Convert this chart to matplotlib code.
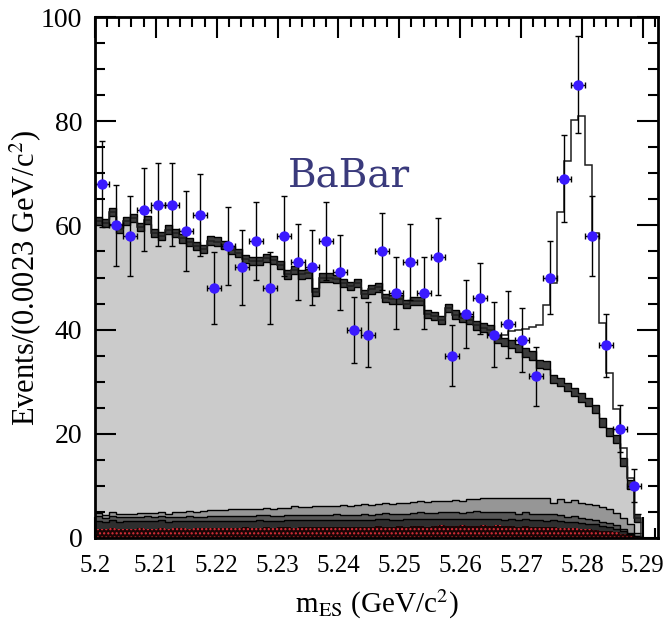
import numpy as np
import matplotlib
matplotlib.use("Agg")
import matplotlib.pyplot as plt
from matplotlib.ticker import MultipleLocator

# ---- data -------------------------------------------------------------
# Data points: 39 bins of 0.0023 GeV starting at 5.2 GeV
data_counts = [68, 60, 58, 63, 64, 64, 59, 62, 48, 56, 52, 57, 48, 58, 53, 52,
               57, 51, 40, 39, 55, 47, 53, 47, 54, 35, 43, 46, 39, 41, 38, 31,
               50, 69, 87, 58, 37, 21, 10]
data_bin_width = 0.0023
x_start = 5.2

# Fit components on 78 fine bins of 0.00115 GeV
fine_bin_width = 0.00115

# Continuum background (top of the light-grey area, centre of the dark band)
bkg_fit = [60.8, 60.5, 62.6, 59.4, 60.8, 61.4, 59.7, 61.0, 58.6, 58.0, 59.2, 58.6, 57.5,
           56.8, 56.1, 55.5, 57.1, 56.9, 56.3, 55.3, 54.7, 53.5, 53.2, 53.2, 53.8, 53.4,
           52.4, 50.6, 51.5, 50.6, 50.8, 47.2, 50.0, 50.0, 49.7, 49.0, 48.4, 49.0, 46.8,
           47.7, 48.1, 46.1, 45.8, 45.8, 44.9, 45.5, 45.5, 43.0, 42.6, 41.9, 44.2, 42.9,
           42.3, 41.9, 40.8, 40.4, 40.0, 38.2, 37.6, 37.2, 36.5, 35.6, 35.0, 33.4, 33.2,
           30.5, 29.9, 29.0, 28.0, 27.0, 26.1, 24.8, 22.2, 20.3, 19.0, 14.6, 10.3, 3.8]
band_halfwidth = 0.8

# Total fit (signal + background)
total_fit = [60.8, 60.5, 62.6, 59.4, 60.8, 61.4, 59.7, 61.0, 58.6, 58.0, 59.2, 58.6, 57.5,
             56.8, 56.1, 55.5, 57.1, 56.9, 56.3, 55.3, 54.7, 53.5, 53.2, 53.2, 53.8, 53.4,
             52.4, 50.6, 51.5, 50.6, 50.8, 47.2, 50.0, 50.0, 49.7, 49.0, 48.4, 49.0, 46.8,
             47.7, 48.1, 46.1, 45.8, 45.8, 44.9, 45.5, 45.5, 43.0, 42.6, 41.9, 44.2, 42.9,
             42.3, 41.9, 40.8, 40.4, 40.0, 38.2, 39.0, 39.8, 40.0, 40.2, 40.5, 40.9, 44.7,
             49.0, 62.6, 72.4, 80.2, 81.0, 71.6, 58.6, 41.3, 31.7, 24.8, 17.3, 11.6, 3.8]

# B-background components (stacked from the bottom)
bb_comb = [1.8, 1.7, 1.9, 1.8, 1.8, 1.7, 1.9, 1.8, 1.8, 1.9, 1.8, 1.9, 1.9, 1.8, 2.0, 1.9,
           1.9, 2.0, 2.0, 1.9, 2.0, 2.1, 2.0, 2.0, 2.1, 2.0, 2.1, 2.1, 2.0, 2.1, 2.2, 2.1,
           2.1, 2.2, 2.1, 2.2, 2.2, 2.1, 2.2, 2.2, 2.3, 2.2, 2.2, 2.3, 2.2, 2.3, 2.3, 2.2,
           2.3, 2.4, 2.3, 2.3, 2.4, 2.3, 2.3, 2.4, 2.3, 2.4, 2.3, 2.3, 2.2, 2.3, 2.2, 2.2,
           2.1, 2.1, 2.0, 1.9, 1.9, 1.8, 1.7, 1.6, 1.4, 1.3, 1.1, 0.8, 0.5, 0.2]
bb_dark = [1.5, 1.4, 1.5, 1.3, 1.4, 1.5, 1.3, 1.4, 1.4, 1.5, 1.3, 1.4, 1.3, 1.4, 1.2, 1.3,
           1.4, 1.3, 1.2, 1.4, 1.3, 1.2, 1.3, 1.4, 1.2, 1.3, 1.2, 1.3, 1.4, 1.3, 1.2, 1.3,
           1.4, 1.2, 1.3, 1.3, 1.2, 1.4, 1.3, 1.2, 1.3, 1.4, 1.3, 1.2, 1.4, 1.3, 1.3, 1.4,
           1.3, 1.2, 1.4, 1.3, 1.2, 1.3, 1.4, 1.3, 1.4, 1.3, 1.2, 1.4, 1.3, 1.3, 1.2, 1.3,
           1.2, 1.3, 1.2, 1.1, 1.2, 1.1, 1.0, 1.0, 0.9, 0.8, 0.7, 0.5, 0.3, 0.1]
bb_mid = [0.9, 0.8, 0.9, 1.0, 0.8, 0.9, 0.8, 1.0, 0.9, 0.8, 0.9, 0.8, 0.9, 1.0, 0.9, 0.8,
          1.0, 0.9, 1.0, 0.9, 1.0, 1.0, 0.9, 1.0, 1.1, 1.0, 0.9, 1.0, 1.1, 1.0, 1.0, 1.1,
          1.0, 1.1, 1.2, 1.0, 1.1, 1.0, 1.2, 1.1, 1.1, 1.2, 1.1, 1.2, 1.1, 1.2, 1.3, 1.2,
          1.2, 1.3, 1.2, 1.3, 1.2, 1.3, 1.4, 1.3, 1.2, 1.3, 1.4, 1.3, 1.2, 1.3, 1.3, 1.2,
          1.3, 1.2, 1.2, 1.1, 1.1, 1.0, 1.0, 0.9, 0.8, 0.7, 0.6, 0.4, 0.2, 0.1]
bb_light = [0.6, 0.5, 0.7, 0.6, 0.6, 0.5, 0.8, 0.6, 0.7, 0.8, 0.7, 0.9, 0.8, 1.0, 0.9, 1.1,
            1.0, 1.2, 1.1, 1.3, 1.2, 1.3, 1.4, 1.2, 1.4, 1.3, 1.5, 1.4, 1.6, 1.5, 1.5, 1.7,
            1.6, 1.7, 1.6, 1.8, 1.7, 1.9, 1.8, 1.8, 1.9, 2.0, 1.9, 2.1, 2.0, 2.1, 2.2, 2.1,
            2.3, 2.2, 2.2, 2.4, 2.3, 2.5, 2.4, 2.6, 2.7, 2.6, 2.8, 2.7, 2.9, 2.8, 3.0, 2.9,
            3.0, 2.2, 3.0, 2.9, 3.0, 2.9, 2.8, 2.8, 2.9, 2.7, 2.4, 2.1, 1.6, 0.5]

x_ticks = [5.20, 5.21, 5.22, 5.23, 5.24, 5.25, 5.26, 5.27, 5.28, 5.29]
x_tick_labels = ["5.2", "5.21", "5.22", "5.23", "5.24", "5.25", "5.26", "5.27", "5.28", "5.29"]
y_ticks = [0, 20, 40, 60, 80, 100]

# ---- figure -----------------------------------------------------------
plt.rcParams["font.family"] = ["Liberation Serif", "DejaVu Serif"]
plt.rcParams["mathtext.fontset"] = "stix"

fig = plt.figure(figsize=(6.66, 6.31), dpi=100)
ax = fig.add_axes([0.1426, 0.1474, 0.8454, 0.8256])

n_fine = len(bkg_fit)
fine_edges = x_start + fine_bin_width * np.arange(n_fine + 1)
bkg = np.array(bkg_fit)

# continuum background area
ax.stairs(bkg, fine_edges, baseline=0, fill=True, color="#cbcbcb", zorder=1)

# uncertainty band on the continuum
ax.stairs(bkg + band_halfwidth, fine_edges, baseline=bkg - band_halfwidth,
          fill=True, color="#3c3c3c", zorder=2)
ax.stairs(bkg + band_halfwidth, fine_edges, baseline=None, color="black", lw=1.0, zorder=2.1)
ax.stairs(bkg - band_halfwidth, fine_edges, baseline=None, color="black", lw=1.0, zorder=2.1)

# stacked B-background components
c1 = np.array(bb_comb)
c2 = c1 + np.array(bb_dark)
c3 = c2 + np.array(bb_mid)
c4 = c3 + np.array(bb_light)
ax.stairs(c4, fine_edges, baseline=c3, fill=True, color="#969696", zorder=3)
ax.stairs(c3, fine_edges, baseline=c2, fill=True, color="#575757", zorder=3)
ax.stairs(c2, fine_edges, baseline=c1, fill=True, color="#2e2e2e", zorder=3)
ax.stairs(c1, fine_edges, baseline=0, fill=True, facecolor="#1a0505",
          edgecolor="#e0303a", hatch="....", lw=0, zorder=3)
for top in (c4, c3, c2):
    ax.stairs(top, fine_edges, baseline=None, color="black", lw=1.0, zorder=3.2)

# total fit
ax.stairs(np.array(total_fit), fine_edges, baseline=0, color="#1e1e1e", lw=1.1, zorder=4)

# data
counts = np.array(data_counts, dtype=float)
centers = x_start + data_bin_width * (np.arange(len(counts)) + 0.5)
ax.errorbar(centers, counts, yerr=np.sqrt(counts), xerr=data_bin_width / 2,
            fmt="o", color="#3a1aff", ms=6.5, mec="#3a1aff",
            ecolor="black", elinewidth=1.0, capsize=2, capthick=1.0, zorder=5)

# BaBar label
ax.text(5.2418, 69.5, "BaBar", color="#3a3a7c", fontsize=28,
        family=["DejaVu Serif"], ha="center", va="center", zorder=6)

# axes styling
ax.set_xlim(5.2, 5.2925)
ax.set_ylim(0, 100)
ax.set_xticks(x_ticks)
ax.set_xticklabels(x_tick_labels)
ax.set_yticks(y_ticks)
ax.xaxis.set_minor_locator(MultipleLocator(0.002))
ax.yaxis.set_minor_locator(MultipleLocator(5))
ax.tick_params(which="both", direction="in", top=True, right=True, width=1.5,
               colors="black")
ax.tick_params(which="major", length=15, pad=9)
ax.tick_params(which="minor", length=7)
ax.tick_params(axis="x", which="major", pad=12, labelsize=18)
ax.tick_params(axis="y", which="major", labelsize=20)
for s in ax.spines.values():
    s.set_linewidth(2)
    s.set_zorder(7)

ax.set_xlabel(r"m$_{\mathrm{ES}}$ (GeV/c$^2$)", fontsize=21, labelpad=8)
ax.set_ylabel(r"Events/(0.0023 GeV/c$^2$)", fontsize=22)
ax.yaxis.set_label_coords(-0.092, 0.5)

fig.savefig("out.png", dpi=100)
